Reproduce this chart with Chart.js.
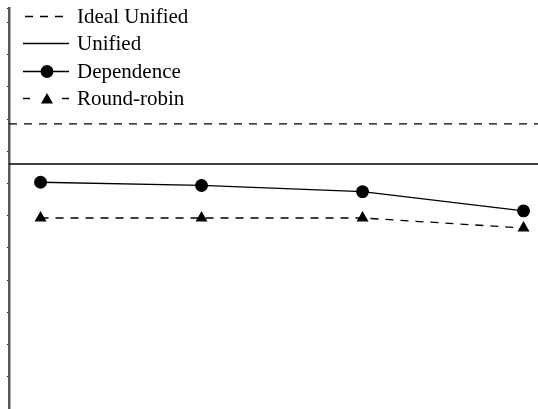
<!DOCTYPE html>
<html>
<head>
<meta charset="utf-8">
<script src="https://cdn.jsdelivr.net/npm/chart.js@4/dist/chart.umd.min.js"></script>
<style>
  html, body { margin: 0; padding: 0; background: #ffffff; }
  #wrap { width: 538px; height: 409px; }
</style>
</head>
<body>
<div id="wrap"><canvas id="c" width="538" height="409"></canvas></div>
<script>
// Configurations along the x axis
const configs = [1, 2, 3, 4];

// Series values
const idealUnified = 8.85;
const unified = 7.61;
const dependence = [7.04, 6.94, 6.75, 6.15];
const roundRobin = [5.93, 5.93, 5.93, 5.62];

// Axis range and tick step
const xMin = 0.804, xMax = 4.09;
const yMin = 0, yMax = 12.45, yStep = 1;

const seriesNames = ['Ideal Unified', 'Unified', 'Dependence', 'Round-robin'];

const pts = vals => vals.map((v, i) => ({ x: configs[i], y: v }));
const flat = v => [{ x: xMin, y: v }, { x: xMax, y: v }];

// Legend drawn in the top-left corner, using each dataset's own line style
const legendPlugin = {
  id: 'cornerLegend',
  afterDatasetsDraw(chart) {
    const ctx = chart.ctx;
    const rows = [16, 43, 71, 98];
    const x0 = 23, x1 = 69, mid = 47, textX = 77;
    ctx.save();
    ctx.strokeStyle = '#000';
    ctx.fillStyle = '#000';
    chart.data.datasets.forEach((ds, i) => {
      const y = rows[i] + 0.5;
      ctx.lineWidth = ds.borderWidth;
      if (ds.label === 'Round-robin') {
        ctx.setLineDash([]);
        ctx.beginPath();
        ctx.moveTo(x0, y); ctx.lineTo(x0 + 7, y);
        ctx.moveTo(x1 - 7, y); ctx.lineTo(x1, y);
        ctx.stroke();
      } else {
        ctx.setLineDash(ds.borderDash || []);
        ctx.beginPath();
        ctx.moveTo(ds.borderDash && ds.borderDash.length ? x0 + 2 : x0, y);
        ctx.lineTo(x1, y);
        ctx.stroke();
      }
      ctx.setLineDash([]);
      if (ds.pointRadius > 0) {
        Chart.helpers.drawPoint(ctx, {
          pointStyle: ds.pointStyle,
          radius: ds.pointRadius,
          borderWidth: 1
        }, mid, y + (ds.pointStyle === 'triangle' ? 1.5 : 0));
      }
      ctx.font = '21px "Liberation Serif", "Times New Roman", serif';
      ctx.textBaseline = 'alphabetic';
      ctx.textAlign = 'left';
      ctx.fillText(ds.label, textX, y + 6.5);
    });
    ctx.restore();
  }
};

new Chart(document.getElementById('c'), {
  type: 'line',
  data: {
    datasets: [
      {
        label: seriesNames[0],
        data: flat(idealUnified),
        borderColor: '#000',
        borderWidth: 1.3,
        borderDash: [8, 7],
        pointRadius: 0
      },
      {
        label: seriesNames[1],
        data: flat(unified),
        borderColor: '#000',
        borderWidth: 1.5,
        pointRadius: 0
      },
      {
        label: seriesNames[2],
        data: pts(dependence),
        borderColor: '#000',
        backgroundColor: '#000',
        borderWidth: 1.3,
        pointStyle: 'circle',
        pointRadius: 5.8,
        pointBackgroundColor: '#000',
        pointBorderColor: '#000'
      },
      {
        label: seriesNames[3],
        data: pts(roundRobin),
        borderColor: '#000',
        backgroundColor: '#000',
        borderWidth: 1.3,
        borderDash: [8, 7],
        pointStyle: 'triangle',
        pointRadius: 5.6,
        pointBackgroundColor: '#000',
        pointBorderColor: '#000'
      }
    ]
  },
  options: {
    responsive: false,
    animation: false,
    events: [],
    clip: false,
    layout: { autoPadding: false, padding: { left: 7, top: 8, right: 0, bottom: 0 } },
    plugins: {
      legend: { display: false },
      tooltip: { enabled: false }
    },
    scales: {
      x: {
        type: 'linear',
        min: xMin,
        max: xMax,
        display: false
      },
      y: {
        type: 'linear',
        min: yMin,
        max: yMax,
        ticks: { display: false, stepSize: yStep },
        grid: {
          drawOnChartArea: false,
          drawTicks: true,
          tickLength: 2,
          color: '#222',
          lineWidth: 1
        },
        border: { display: true, color: '#5a5a5a', width: 2.5 }
      }
    }
  },
  plugins: [legendPlugin]
});
</script>
</body>
</html>
